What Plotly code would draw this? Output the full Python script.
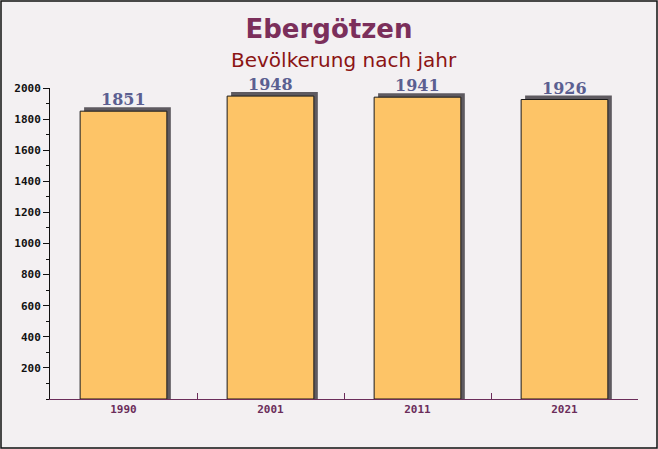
import plotly.graph_objects as go

# Bevölkerung Ebergötzen
jahre = ['1990', '2001', '2011', '2021']
einwohner = [1851, 1948, 1941, 1926]
y_ticks = [200, 400, 600, 800, 1000, 1200, 1400, 1600, 1800, 2000]

W, H = 658, 449
ml, mr, mt, mb = 50, 20, 88, 50

# schatten: etwas nach oben versetzt
schatten = [v + 26 for v in einwohner]

fig = go.Figure()
fig.add_trace(go.Bar(
    x=jahre, y=schatten, width=0.59, offset=-0.268,
    marker=dict(color='#5e5a60', line=dict(width=0)),
    hoverinfo='skip', showlegend=False))
fig.add_trace(go.Bar(
    x=jahre, y=einwohner, width=0.59, offset=-0.295,
    marker=dict(color='#fdc467', line=dict(color='#1a1a1a', width=1)),
    showlegend=False))

# werte über den balken (x als kategorie-index)
annots = [dict(x=i, y=v, text=str(v), showarrow=False, yanchor='bottom', yshift=0,
               font=dict(family='DejaVu Serif', size=16, color='#5b5f91', weight='bold'))
          for i, v in enumerate(einwohner)]
annots.append(dict(text='Bevölkerung nach jahr', xref='paper', yref='paper',
                   x=0.5, y=1.09, xanchor='center', yanchor='middle', showarrow=False,
                   font=dict(family='DejaVu Sans', size=20, color='#8b1414')))

fig.update_layout(
    width=W, height=H,
    barmode='overlay',
    margin=dict(l=ml, r=mr, t=mt, b=mb),
    paper_bgcolor='#f3f0f2',
    plot_bgcolor='rgba(0,0,0,0)',
    title=dict(text='Ebergötzen', x=0.5, xanchor='center', y=0.935, yanchor='middle',
               font=dict(family='DejaVu Sans', size=26, color='#7b2f5b', weight='bold')),
    annotations=annots,
    shapes=[dict(type='rect', xref='paper', yref='paper',
                 x0=-(ml - 1) / (W - ml - mr), x1=1 + (mr - 1) / (W - ml - mr),
                 y0=-(mb - 1) / (H - mt - mb), y1=1 + (mt - 1) / (H - mt - mb),
                 line=dict(color='#111', width=1.5), layer='above')],
)

fig.update_xaxes(
    type='category', tickson='boundaries', ticks='inside', ticklen=6,
    tickcolor='#6b2d5a', showline=True, linecolor='#6b2d5a', linewidth=1,
    showgrid=False, zeroline=False,
    tickfont=dict(family='DejaVu Sans Mono', size=11, color='#6b2d5a', weight='bold'))
fig.update_yaxes(
    range=[0, 2000], tickvals=y_ticks, ticks='outside', ticklen=6, tickcolor='#111',
    showline=True, linecolor='#111', linewidth=1, showgrid=False, zeroline=False,
    minor=dict(dtick=100, ticks='outside', ticklen=3, tickcolor='#111'),
    tickfont=dict(family='DejaVu Sans Mono', size=11, color='#111', weight='bold'))

fig.write_html('out.html', config={'displayModeBar': False},
               post_script="document.body.style.margin='0';")
